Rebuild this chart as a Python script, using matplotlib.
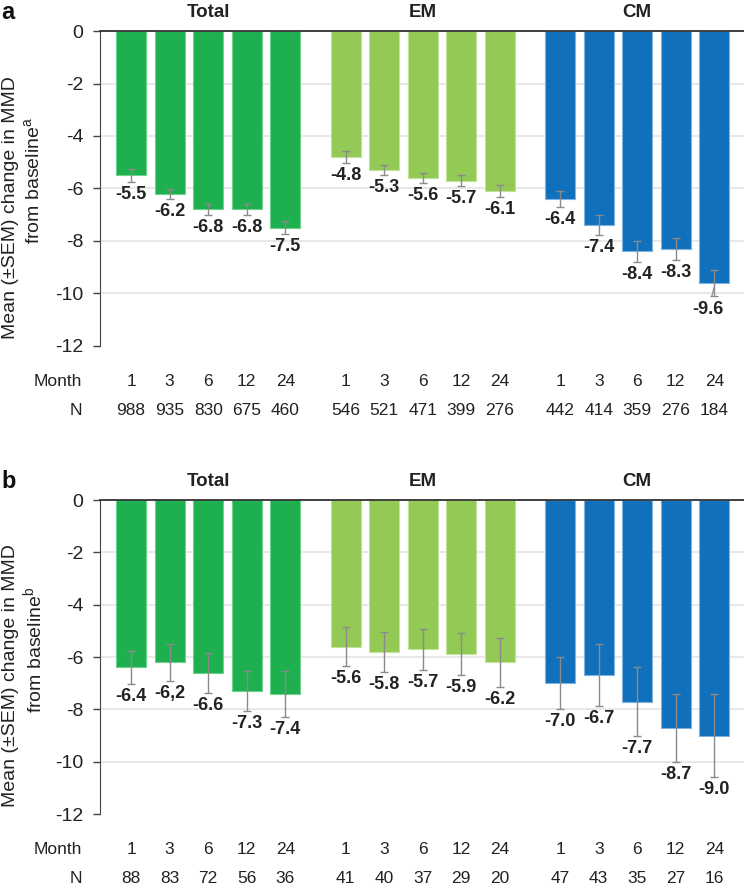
import matplotlib
matplotlib.use("Agg")
import matplotlib.pyplot as plt
import matplotlib.transforms as mtransforms

plt.rcParams['font.family'] = ['Liberation Sans', 'DejaVu Sans']

groups = ['Total', 'EM', 'CM']
months = ['1', '3', '6', '12', '24']
colors = ['#1eb04f', '#93c955', '#1170bb']
edges = ['#6fd08c', '#c3e39b', '#7fb2de']

# panel a
mean_a = [[-5.5, -6.2, -6.8, -6.8, -7.5],
          [-4.8, -5.3, -5.6, -5.7, -6.1],
          [-6.4, -7.4, -8.4, -8.3, -9.6]]
sem_a = [[0.24, 0.19, 0.22, 0.22, 0.25],
         [0.21, 0.19, 0.20, 0.20, 0.24],
         [0.32, 0.38, 0.41, 0.43, 0.49]]
n_a = [['988', '935', '830', '675', '460'],
       ['546', '521', '471', '399', '276'],
       ['442', '414', '359', '276', '184']]

# panel b
mean_b = [[-6.4, -6.2, -6.6, -7.3, -7.4],
          [-5.6, -5.8, -5.7, -5.9, -6.2],
          [-7.0, -6.7, -7.7, -8.7, -9.0]]
sem_b = [[0.64, 0.71, 0.77, 0.77, 0.88],
         [0.74, 0.77, 0.78, 0.80, 0.93],
         [1.00, 1.18, 1.32, 1.30, 1.58]]
n_b = [['88', '83', '72', '56', '36'],
       ['41', '40', '37', '29', '20'],
       ['47', '43', '35', '27', '16']]
# labels shown in the source (one typed with a comma)
lab_b = [['-6.4', '-6,2', '-6.6', '-7.3', '-7.4'],
         ['-5.6', '-5.8', '-5.7', '-5.9', '-6.2'],
         ['-7.0', '-6.7', '-7.7', '-8.7', '-9.0']]

GROUP_STEP = 5.565
WIDTH = 0.78


def draw_panel(ax, means, sems, ns, labels, letter, sup, leader=None):
    ax.set_xlim(-0.805, 15.9)
    ax.set_ylim(-12, 0)
    ax.set_yticks(range(-12, 1, 2))
    ax.set_yticklabels([str(v) for v in range(-12, 1, 2)])
    ax.tick_params(axis='y', direction='out', length=5, width=1, color='#444444',
                   labelsize=14, pad=7, labelcolor='#222222')
    ax.tick_params(axis='x', bottom=False, labelbottom=False)
    ax.set_axisbelow(True)
    ax.yaxis.grid(True, color='#e2e2e2', lw=1.1)
    ax.get_ygridlines()[0].set_visible(False)
    for s in ['right', 'bottom']:
        ax.spines[s].set_visible(False)
    ax.spines['left'].set_color('#444444')
    ax.spines['top'].set_color('#333333')
    ax.spines['top'].set_linewidth(1.3)

    trans = mtransforms.blended_transform_factory(ax.transData, ax.transAxes)
    for g in range(3):
        xs = [g * GROUP_STEP + i for i in range(5)]
        ax.bar(xs, means[g], width=WIDTH, color=colors[g], edgecolor=edges[g],
               linewidth=0.8, zorder=2)
        ax.errorbar(xs, means[g], yerr=sems[g], fmt='none', ecolor='#8a8a8a',
                    elinewidth=1, capsize=2.6, capthick=1, zorder=3)
        for i in range(5):
            v = means[g][i]
            e = sems[g][i]
            txt = labels[g][i]
            if leader is not None and leader == (g, i):
                ax.annotate(txt, xy=(xs[i], v - e * 0.3), xytext=(-4.3, -16),
                            textcoords='offset points', ha='center', va='center',
                            fontsize=13, fontweight='bold', color='#222222',
                            arrowprops=dict(arrowstyle='-', color='#8a8a8a', lw=0.9,
                                            shrinkA=1, shrinkB=0), zorder=4)
            else:
                ax.annotate(txt, xy=(xs[i], v - e), xytext=(0, -9),
                            textcoords='offset points', ha='center', va='center',
                            fontsize=13, fontweight='bold', color='#222222', zorder=4)
            ax.text(xs[i], -0.112, months[i], transform=trans, ha='center',
                    va='center', fontsize=12.5, color='#222222')
            ax.text(xs[i], -0.205, ns[g][i], transform=trans, ha='center',
                    va='center', fontsize=12.5, color='#222222')
        ax.text(g * GROUP_STEP + 2, 1.06, groups[g], transform=trans, ha='center',
                va='center', fontsize=13.5, fontweight='bold', color='#222222')

    ax.text(-0.028, -0.112, 'Month', transform=ax.transAxes, ha='right',
            va='center', fontsize=12.5, color='#222222')
    ax.text(-0.028, -0.205, 'N', transform=ax.transAxes, ha='right',
            va='center', fontsize=12.5, color='#222222')

    ax.text(-0.139, 0.44, 'Mean (±SEM) change in MMD', transform=ax.transAxes,
            rotation=90, ha='center', va='center', fontsize=14, color='#222222')
    ax.text(-0.103, 0.524, 'from baseline$^{\\mathregular{' + sup + '}}$',
            transform=ax.transAxes, rotation=90, ha='center', va='center',
            fontsize=14, color='#222222')
    ax.text(-0.153, 1.06, letter, transform=ax.transAxes, ha='left', va='center',
            fontsize=17, fontweight='bold', color='#111111')


fig = plt.figure(figsize=(7.44, 8.91), dpi=100)
ax_a = fig.add_axes([0.1345, 0.6117, 0.8655, 0.3535])
ax_b = fig.add_axes([0.1345, 0.0864, 0.8655, 0.3524])

draw_panel(ax_a, mean_a, sem_a, n_a, [[f'{v:.1f}' for v in row] for row in mean_a],
           'a', 'a', leader=(2, 4))
draw_panel(ax_b, mean_b, sem_b, n_b, lab_b, 'b', 'b')

fig.savefig('out.png', dpi=100)
